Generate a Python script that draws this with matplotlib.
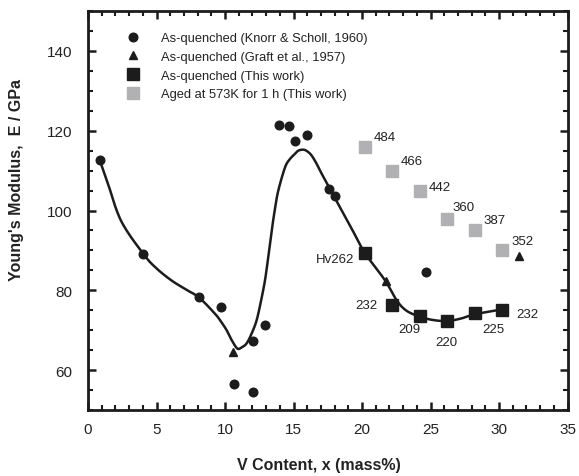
import matplotlib
matplotlib.use("Agg")
import matplotlib.pyplot as plt
import numpy as np
from matplotlib.ticker import MultipleLocator

plt.rcParams['font.family'] = ['Liberation Sans', 'DejaVu Sans']

# ---- data ----
knorr_x = [0.85, 4.05, 8.07, 9.68, 10.68, 12.07, 12.07, 12.94, 13.95, 14.7, 15.14, 15.97,
           17.58, 18.06, 24.65]
knorr_y = [112.7, 89.0, 78.3, 75.7, 56.6, 67.3, 54.6, 71.2, 121.5, 121.3, 117.5, 119.0,
           105.4, 103.75, 84.6]

graft_x = [10.56, 21.72, 31.43]
graft_y = [64.5, 82.4, 88.6]

this_x = [20.22, 22.19, 24.23, 26.18, 28.23, 30.22]
this_y = [89.3, 76.4, 73.6, 72.2, 74.2, 75.1]
this_hv = ["Hv262", "232", "209", "220", "225", "232"]

aged_x = [20.22, 22.19, 24.23, 26.18, 28.23, 30.22]
aged_y = [115.8, 109.8, 104.9, 97.9, 95.1, 90.2]
aged_hv = ["484", "466", "442", "360", "387", "352"]

# hand-drawn guide curve
curve_x = [0.85, 1.46, 2.43, 4.09, 5.0, 6.08, 7.1, 8.1, 9.25, 9.7, 10.12, 10.49, 10.9,
           11.22, 11.58, 11.95, 12.31, 12.62, 12.92, 13.17, 13.41, 13.65, 13.89, 14.38, 14.74,
           15.11, 15.35, 15.72, 16.02, 16.33, 16.69, 17.06, 17.79, 18.4, 19.3, 20.22,
           21.68, 22.53, 23.2, 24.11, 25.1, 26.18, 27.2, 28.25, 30.2]
curve_y = [112.7, 106.7, 97.3, 88.9, 85.5, 82.5, 80.3, 78.2, 74.2, 72.2, 70.0, 67.5,
           65.4, 65.7, 66.7, 69.2, 72.5, 77.2, 82.5, 88.7, 95.0, 100.5, 105.0, 110.8, 112.9,
           114.2, 115.0, 115.25, 114.8, 113.75, 111.7, 109.2, 104.6, 100.8, 95.1, 89.3,
           82.5, 77.5, 75.0, 73.5, 72.6, 72.3, 72.9, 74.0, 75.2]

# annotation positions (x, y) for the hardness labels
this_lab_x = [19.44, 21.12, 23.45, 26.18, 29.6, 31.29]
this_lab_y = [87.9, 76.25, 70.2, 67.1, 70.2, 74.0]
aged_lab_x = [20.88, 22.83, 24.89, 26.62, 28.86, 30.93]
aged_lab_y = [118.5, 112.3, 106.0, 100.8, 97.7, 92.25]


def catmull_rom(xs, ys, n=12):
    """Smooth line style through the read points (uniform Catmull-Rom)."""
    p = np.column_stack([xs, ys]).astype(float)
    p = np.vstack([2 * p[0] - p[1], p, 2 * p[-1] - p[-2]])
    out = []
    t = np.linspace(0, 1, n, endpoint=False)[:, None]
    for i in range(1, len(p) - 2):
        p0, p1, p2, p3 = p[i - 1], p[i], p[i + 1], p[i + 2]
        seg = 0.5 * ((2 * p1) + (-p0 + p2) * t + (2 * p0 - 5 * p1 + 4 * p2 - p3) * t ** 2
                     + (-p0 + 3 * p1 - 3 * p2 + p3) * t ** 3)
        out.append(seg)
    out.append(p[-2][None, :])
    out = np.vstack(out)
    return out[:, 0], out[:, 1]


fig = plt.figure(figsize=(5.79, 4.77), dpi=100)
ax = fig.add_axes([88/579, 1-411/477, (567.5-88)/579, (411-12)/477])

black = '#1c1c1c'
gray = '#b1b1b3'

cx, cy = catmull_rom(curve_x, curve_y)
ax.plot(cx, cy, '-', color=black, lw=1.8, solid_joinstyle='round', zorder=2)
ax.plot(knorr_x, knorr_y, 'o', color=black, ms=6.2, ls='none', zorder=3,
        label='As-quenched (Knorr & Scholl, 1960)')
ax.plot(graft_x, graft_y, '^', color=black, ms=5.5, ls='none', zorder=3,
        label='As-quenched (Graft et al., 1957)')
ax.plot(this_x, this_y, 's', color=black, ms=8.3, ls='none', zorder=4,
        label='As-quenched (This work)')
ax.plot(aged_x, aged_y, 's', color=gray, ms=8.3, ls='none', zorder=4,
        label='Aged at 573K for 1 h (This work)')

tcol = '#222222'
for i, t in enumerate(this_hv):
    ha = 'right' if i < 2 else ('left' if i == 5 else 'center')
    ax.text(this_lab_x[i], this_lab_y[i], t, fontsize=9.5, color=tcol, ha=ha, va='center')
for i, t in enumerate(aged_hv):
    ax.text(aged_lab_x[i], aged_lab_y[i], t, fontsize=9.5, color=tcol, ha='left', va='center')

ax.set_xlim(0, 35)
ax.set_ylim(50, 150)
ax.xaxis.set_major_locator(MultipleLocator(5))
ax.xaxis.set_minor_locator(MultipleLocator(1))
ax.yaxis.set_minor_locator(MultipleLocator(5))
ax.set_yticks([60, 80, 100, 120, 140])

for s in ax.spines.values():
    s.set_linewidth(2.0)
    s.set_color(black)
ax.tick_params(which='both', direction='in', top=True, right=True, color=black)
ax.tick_params(which='major', length=6, width=1.8, labelsize=11, pad=9, labelcolor=tcol)
ax.tick_params(which='minor', length=3.5, width=1.5)
ax.tick_params(axis='y', which='major', pad=11)

ax.set_xlabel('V Content, x (mass%)', fontsize=11.5, fontweight='bold', color=tcol)
ax.xaxis.set_label_coords(0.482, -0.118)
ax.set_ylabel("Young's Modulus,  E / GPa", fontsize=11.5, fontweight='bold', color=tcol)
ax.yaxis.set_label_coords(-0.133, 0.579)

leg = ax.legend(loc='upper left', bbox_to_anchor=(0.081, 0.947), frameon=False,
                fontsize=9.3, numpoints=1, handlelength=1.0, handletextpad=1.65,
                labelspacing=0.52, borderpad=0, borderaxespad=0)
for t in leg.get_texts():
    t.set_color(tcol)

fig.savefig('out.png', dpi=100)
